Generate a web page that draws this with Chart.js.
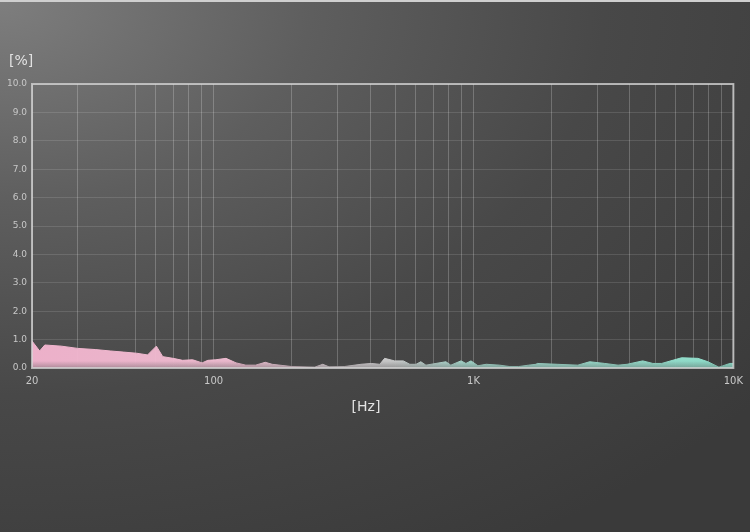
<!DOCTYPE html>
<html>
<head>
<meta charset="utf-8">
<script src="https://cdn.jsdelivr.net/npm/chart.js@4"></script>
<style>
    html, body { margin: 0; padding: 0; }
    body {
        width: 750px;
        height: 532px;
        overflow: hidden;
        background: radial-gradient(ellipse 130% 120% at 0% 0%, #7e7e7e 0%, #5e5e5e 32%, #484848 62%, #3a3a3a 100%);
    }
    #wrap { position: relative; width: 750px; height: 530px; border-top: 2px solid #cfcfcf; }
    canvas { display: block; }
</style>
</head>
<body>
<div id="wrap"><canvas id="thdChart" width="750" height="530"></canvas></div>
<script>
// frequency points [Hz] and distortion [%]
const freqs = [20, 21.4, 22.4, 25.9, 30, 35, 40, 45, 50.5, 55.7, 60.2, 63.7, 69.8, 76, 83, 90.3, 95, 102, 111.6, 122, 133, 145, 158, 168,
    200, 245, 263, 278, 318, 369, 404, 436, 455, 497, 537, 569, 601, 627, 656, 717, 783, 818, 895, 935, 978, 1040, 1120, 1260, 1380,
    1490, 1630, 1740, 1760, 2100, 2520, 2800, 3200, 3600, 3900, 4480, 4900, 5300, 6320, 7300, 7980, 8800, 9700, 10000];
const thd = [0.95, 0.6, 0.81, 0.77, 0.69, 0.65, 0.6, 0.56, 0.52, 0.46, 0.77, 0.4, 0.34, 0.27, 0.29, 0.18, 0.27, 0.29, 0.34, 0.18, 0.1, 0.1, 0.2, 0.13,
    0.05, 0.03, 0.13, 0.04, 0.05, 0.13, 0.16, 0.13, 0.34, 0.25, 0.25, 0.13, 0.13, 0.22, 0.1, 0.16, 0.22, 0.1, 0.25, 0.16, 0.25, 0.08, 0.13, 0.1, 0.05,
    0.05, 0.1, 0.13, 0.16, 0.13, 0.1, 0.22, 0.16, 0.1, 0.13, 0.25, 0.16, 0.16, 0.36, 0.34, 0.22, 0.03, 0.16, 0.16];

const gridFreqs = [20, 30, 50, 60, 70, 80, 90, 100, 200, 300, 400, 500, 600, 700, 800, 900,
    1000, 2000, 3000, 4000, 5000, 6000, 7000, 8000, 9000, 10000];
const freqLabels = { 20: "20", 100: "100", 1000: "1K", 10000: "10K" };

const hGradient = (chart, alpha) => {
    const a = chart.chartArea;
    if (!a) return null;
    const g = chart.ctx.createLinearGradient(a.left, 0, a.right, 0);
    g.addColorStop(0.0, `rgba(242,180,206,${alpha})`);
    g.addColorStop(0.30, `rgba(238,188,208,${alpha})`);
    g.addColorStop(0.42, `rgba(216,204,210,${alpha})`);
    g.addColorStop(0.52, `rgba(200,202,202,${alpha})`);
    g.addColorStop(0.62, `rgba(164,216,204,${alpha})`);
    g.addColorStop(1.0, `rgba(142,224,204,${alpha})`);
    return g;
};

const frameAndLabels = {
    id: "frameAndLabels",
    afterDatasetsDraw(chart) {
        const { ctx, chartArea: a } = chart;
        // darken the fill a little near the baseline
        const sh = ctx.createLinearGradient(0, a.bottom - 7, 0, a.bottom);
        sh.addColorStop(0, "rgba(80,80,80,0)");
        sh.addColorStop(1, "rgba(80,80,80,0.4)");
        ctx.save();
        ctx.fillStyle = sh;
        ctx.fillRect(a.left, a.bottom - 7, a.right - a.left, 7);
        ctx.restore();
    },
    afterDraw(chart) {
        const { ctx, chartArea: a } = chart;
        ctx.save();
        ctx.strokeStyle = "rgba(215,215,215,0.75)";
        ctx.lineWidth = 2;
        ctx.strokeRect(a.left, a.top, a.right - a.left, a.bottom - a.top);
        ctx.fillStyle = "#e2e2e2";
        ctx.font = "14px 'DejaVu Sans'";
        ctx.textBaseline = "middle";
        ctx.textAlign = "left";
        ctx.fillText("[%]", 9, 59);
        ctx.textAlign = "center";
        ctx.fillText("[Hz]", 366, 405);
        ctx.restore();
    }
};

new Chart(document.getElementById("thdChart"), {
    type: "line",
    data: {
        datasets: [{
            data: freqs.map((f, i) => ({ x: f, y: thd[i] })),
            fill: "origin",
            backgroundColor: (c) => hGradient(c.chart, 0.97),
            borderColor: (c) => hGradient(c.chart, 1),
            borderWidth: 1,
            pointRadius: 0,
            tension: 0,
        }],
    },
    options: {
        responsive: false,
        animation: false,
        devicePixelRatio: 1,
        layout: { padding: { top: 82, right: 15, left: 0, bottom: 0 } },
        plugins: { legend: { display: false }, tooltip: { enabled: false } },
        scales: {
            x: {
                type: "logarithmic",
                min: 20,
                max: 10000,
                afterBuildTicks: (scale) => {
                    scale.ticks = gridFreqs.map(v => ({ value: v }));
                },
                afterFit: (scale) => { scale.height = 164; },
                ticks: {
                    autoSkip: false,
                    maxRotation: 0,
                    padding: 7,
                    color: "#c8c8c8",
                    font: { family: "DejaVu Sans", size: 10 },
                    callback: (v) => freqLabels[v] || "",
                },
                grid: { color: "rgba(255,255,255,0.22)", lineWidth: 1, drawTicks: false },
                border: { display: false },
            },
            y: {
                min: 0,
                max: 10,
                afterFit: (scale) => { scale.width = 32; },
                ticks: {
                    stepSize: 1,
                    padding: 5,
                    color: "#c8c8c8",
                    font: { family: "DejaVu Sans", size: 9 },
                    callback: (v) => v.toFixed(1),
                },
                grid: { color: "rgba(255,255,255,0.12)", lineWidth: 1, drawTicks: false },
                border: { display: false },
            },
        },
    },
    plugins: [frameAndLabels],
});
</script>
</body>
</html>
